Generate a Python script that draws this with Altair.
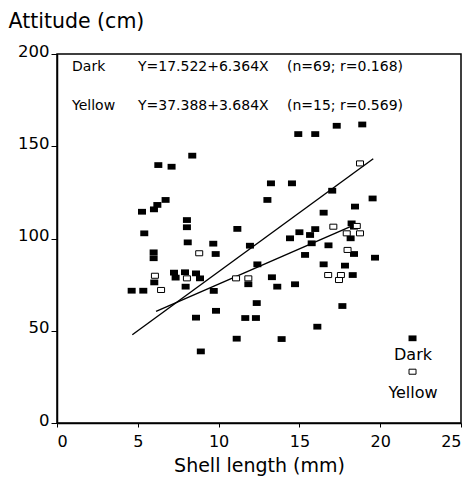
import altair as alt
import pandas as pd

# ---- data ----
dark_x = [4.62, 5.34, 5.26, 5.40, 6.00, 6.21, 6.72, 6.27, 7.09, 8.37,
          5.98, 5.98, 6.02, 7.24, 7.34, 7.92, 7.96, 8.60, 8.85, 8.04,
          8.04, 8.09, 8.60, 8.90, 9.67, 9.82, 9.70, 9.84, 11.16, 11.94,
          12.40, 11.84, 12.36, 11.65, 12.31, 11.12, 13.30, 13.63, 14.73, 13.90,
          16.11, 13.02, 13.24, 14.54, 14.93, 15.98, 14.42, 15.00, 15.66, 15.98,
          15.76, 15.35, 16.50, 16.80, 16.50, 17.31, 18.89, 17.03, 19.53, 18.44,
          18.23, 18.38, 18.17, 18.38, 19.68, 17.82, 18.30, 17.66]
dark_y = [71.7, 71.7, 114.5, 102.8, 115.8, 118.2, 120.9, 139.8, 138.9, 144.9,
          92.5, 89.3, 76.2, 81.5, 78.8, 81.7, 73.9, 81.1, 78.4, 110.0,
          106.1, 97.9, 57.1, 38.8, 97.2, 91.6, 71.6, 60.8, 105.2, 96.1,
          86.0, 75.2, 65.0, 56.9, 56.9, 45.7, 79.0, 73.9, 75.2, 45.5,
          52.2, 120.9, 129.9, 129.9, 156.6, 156.6, 100.1, 103.4, 101.9, 105.1,
          97.4, 91.1, 86.0, 96.3, 114.0, 161.1, 161.8, 125.9, 121.7, 117.3,
          108.2, 106.4, 100.1, 91.6, 89.6, 85.3, 80.2, 63.4]

yellow_x = [6.06, 6.44, 8.04, 8.80, 11.08, 11.84, 16.78, 17.57, 17.45, 17.98,
            17.93, 18.75, 17.10, 18.75, 18.55]
yellow_y = [79.8, 72.1, 78.4, 92.0, 78.4, 78.4, 80.2, 80.2, 77.5, 93.8,
            102.8, 102.8, 106.4, 140.7, 106.8]

dark_line_x = [4.66, 19.57]
dark_line_y = [47.8, 143.2]
yellow_line_x = [6.13, 18.3]
yellow_line_y = [60.5, 107.0]

x_ticks = [0, 5, 10, 15, 20, 25]
y_ticks = [0, 50, 100, 150, 200]

group_names = ["Dark", "Yellow"]
equations = ["Y=17.522+6.364X", "Y=37.388+3.684X"]
stats = ["(n=69; r=0.168)", "(n=15; r=0.569)"]

FONT = "DejaVu Sans"
RECT = "M-1,-0.72H1V0.72H-1Z"

xs = alt.Scale(domain=[0, 25], nice=False, zero=False)
ys = alt.Scale(domain=[0, 200], nice=False, zero=False)

dark_df = pd.DataFrame({"x": dark_x, "y": dark_y})
yel_df = pd.DataFrame({"x": yellow_x, "y": yellow_y})
dline_df = pd.DataFrame({"x": dark_line_x, "y": dark_line_y})
yline_df = pd.DataFrame({"x": yellow_line_x, "y": yellow_line_y})

base_x = alt.X("x:Q", scale=xs,
               axis=alt.Axis(values=x_ticks, title="Shell length (mm)", grid=False,
                             tickSize=4, labelPadding=6, labelFontSize=16,
                             titleFontSize=19, titleFontWeight="normal",
                             titleBaseline="alphabetic", titleY=48))
base_y = alt.Y("y:Q", scale=ys,
               axis=alt.Axis(values=y_ticks, title="Attitude (cm)", grid=False,
                             tickSize=6, labelPadding=2, labelFontSize=16.5,
                             labelOffset=-3,
                             titleAngle=0, titleAlign="left", titleBaseline="alphabetic",
                             titleX=-49, titleY=-27, titleFontSize=20.5,
                             titleFontWeight="normal"))

dark_pts = alt.Chart(dark_df).mark_point(
    shape=RECT, filled=True, color="black", size=64, opacity=1
).encode(x=base_x, y=base_y)

yel_pts = alt.Chart(yel_df).mark_point(
    shape=RECT, filled=True, fill="white", stroke="black", strokeWidth=1,
    size=49, opacity=1
).encode(x="x:Q", y="y:Q")

dline = alt.Chart(dline_df).mark_line(color="black", strokeWidth=1.4).encode(
    x="x:Q", y="y:Q")
yline = alt.Chart(yline_df).mark_line(color="black", strokeWidth=1.4).encode(
    x="x:Q", y="y:Q")

# annotation rows at top-left
ann_df = pd.DataFrame({
    "name": group_names,
    "eq": equations,
    "st": stats,
    "y": [190.8, 169.6],
})
ann_name = alt.Chart(ann_df).mark_text(
    align="left", baseline="alphabetic", font=FONT, fontSize=14, color="black"
).encode(x=alt.datum(0.93), y="y:Q", text="name:N")
ann_eq = alt.Chart(ann_df).mark_text(
    align="left", baseline="alphabetic", font=FONT, fontSize=14, color="black"
).encode(x=alt.datum(5.01), y="y:Q", text="eq:N")
ann_st = alt.Chart(ann_df).mark_text(
    align="left", baseline="alphabetic", font=FONT, fontSize=14, color="black"
).encode(x=alt.datum(14.23), y="y:Q", text="st:N")

# legend at bottom-right
leg_dark = alt.Chart(pd.DataFrame({"x": [22.0], "y": [45.9]})).mark_point(
    shape=RECT, filled=True, color="black", size=64, opacity=1
).encode(x="x:Q", y="y:Q")
leg_yel = alt.Chart(pd.DataFrame({"x": [22.0], "y": [27.8]})).mark_point(
    shape=RECT, filled=True, fill="white", stroke="black", strokeWidth=1,
    size=49, opacity=1
).encode(x="x:Q", y="y:Q")
leg_txt = alt.Chart(pd.DataFrame({"t": group_names, "y": [34.1, 13.5]})).mark_text(
    align="center", baseline="alphabetic", font=FONT, fontSize=16, color="black"
).encode(x=alt.datum(22.03), y="y:Q", text="t:N")

chart = alt.layer(
    dline, yline, dark_pts, yel_pts, ann_name, ann_eq, ann_st,
    leg_dark, leg_yel, leg_txt
).properties(
    width=404, height=369,
    autosize=alt.AutoSizeParams(type="none"),
    padding={"left": 57, "top": 54, "right": 12, "bottom": 54},
    background="white",
).configure_view(
    stroke="black", strokeWidth=1.5
).configure_axis(
    domainColor="black", tickColor="black", labelColor="black", titleColor="black",
    labelFont=FONT, titleFont=FONT, domainWidth=1.5
)

chart.save("out.html", embed_options={"renderer": "svg", "actions": False})
